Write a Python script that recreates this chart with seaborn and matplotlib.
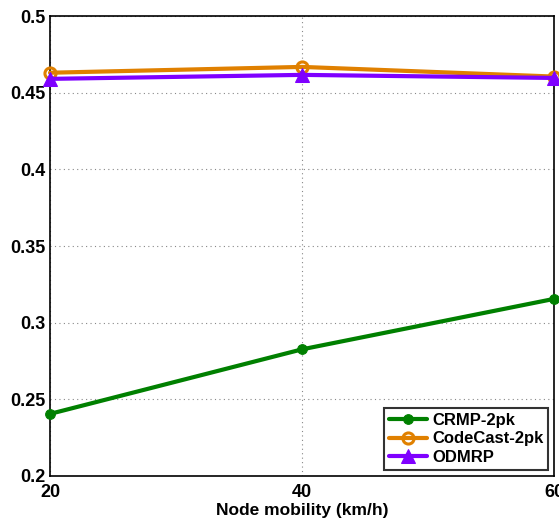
import matplotlib
matplotlib.use("Agg")
import matplotlib.pyplot as plt
import seaborn as sns
import pandas as pd

# Data
mobility = [20, 40, 60]
crmp_2pk = [0.2405, 0.2826, 0.3155]
codecast_2pk = [0.4630, 0.4668, 0.4605]
odmrp = [0.4590, 0.4616, 0.4596]

series_names = ["CRMP-2pk", "CodeCast-2pk", "ODMRP"]
series_values = [crmp_2pk, codecast_2pk, odmrp]
y_ticks = [0.2, 0.25, 0.3, 0.35, 0.4, 0.45, 0.5]
y_tick_labels = ["0.2", "0.25", "0.3", "0.35", "0.4", "0.45", "0.5"]

sns.set_style("white")
plt.rcParams["font.family"] = ["Liberation Sans", "DejaVu Sans"]
plt.rcParams["font.weight"] = "bold"
plt.rcParams["text.color"] = "black"

df = pd.DataFrame({
    "mobility": mobility * len(series_names),
    "value": [v for vals in series_values for v in vals],
    "series": [n for n in series_names for _ in mobility],
})

fig = plt.figure(figsize=(5.59, 5.21), dpi=100)
ax = fig.add_axes([50 / 559, 1 - 476 / 521, 504 / 559, 460 / 521])

palette = {"CRMP-2pk": "#008000", "CodeCast-2pk": "#E08000", "ODMRP": "#7F00FF"}
styles = {
    "CRMP-2pk": dict(marker="o", markersize=7, markerfacecolor="#008000"),
    "CodeCast-2pk": dict(marker="o", markersize=8, markerfacecolor="none", markeredgewidth=2.2),
    "ODMRP": dict(marker="^", markersize=10, markerfacecolor="#7F00FF"),
}

for name in series_names:
    sub = df[df["series"] == name]
    sns.lineplot(data=sub, x="mobility", y="value", ax=ax, color=palette[name],
                 linewidth=3, label=name, markeredgecolor=palette[name],
                 clip_on=False, zorder=3, **styles[name])

ax.set_xlim(20, 60)
ax.set_ylim(0.2, 0.5)
ax.set_xticks(mobility)
ax.set_xticklabels([str(m) for m in mobility])
ax.set_yticks(y_ticks)
ax.set_yticklabels(y_tick_labels)
ax.grid(True, linestyle=(0, (1, 3)), color="#888888", linewidth=0.8)
ax.tick_params(axis="both", labelsize=13, direction="in", length=5, width=1,
               colors="black", labelcolor="black")
ax.tick_params(axis="x", pad=6)
ax.tick_params(axis="y", pad=3)
for lbl in ax.get_xticklabels() + ax.get_yticklabels():
    lbl.set_fontweight("bold")
for sp in ax.spines.values():
    sp.set_color("black")
    sp.set_linewidth(1.2)

ax.set_xlabel("Node mobility (km/h)", fontsize=12.5, fontweight="bold",
              color="black", labelpad=1)
ax.set_ylabel("")

leg = ax.legend(loc="lower right", fontsize=12, frameon=True, fancybox=False,
                edgecolor="black", handlelength=2.3, handletextpad=0.3,
                borderpad=0.3, labelspacing=0.23, borderaxespad=0.35)
leg.get_frame().set_linewidth(1.5)
for t in leg.get_texts():
    t.set_fontweight("bold")
    t.set_color("black")

fig.savefig("out.png", dpi=100)
